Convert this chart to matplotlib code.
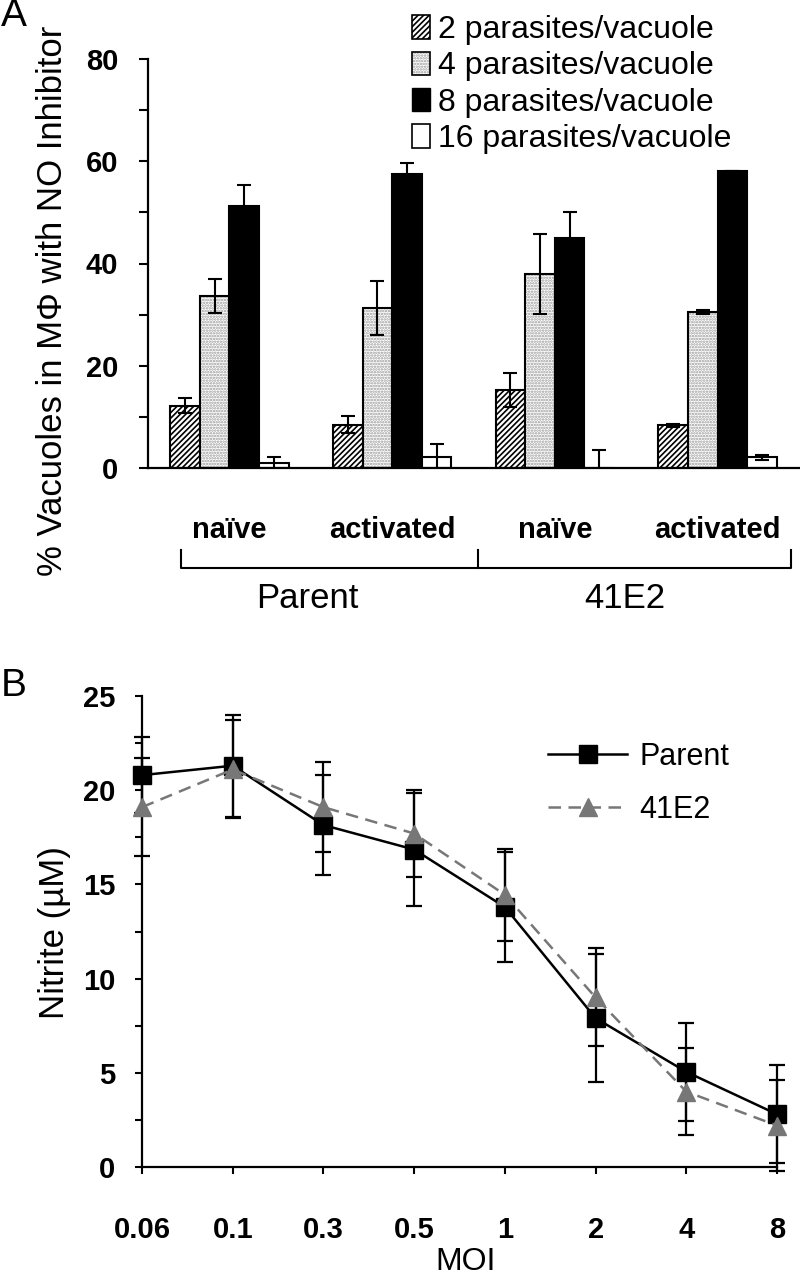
import matplotlib
matplotlib.use("Agg")
import matplotlib.pyplot as plt
import numpy as np
from matplotlib.patches import Patch
from matplotlib.lines import Line2D
from matplotlib.ticker import MultipleLocator
from matplotlib.font_manager import FontProperties

plt.rcParams['font.family'] = ['Liberation Sans', 'DejaVu Sans']
plt.rcParams['hatch.linewidth'] = 1.2

# Panel A data
groups = ['naïve', 'activated', 'naïve', 'activated']
strains = ['Parent', '41E2']
series_a = ['2 parasites/vacuole', '4 parasites/vacuole',
            '8 parasites/vacuole', '16 parasites/vacuole']
vac2 = [12.2, 8.5, 15.3, 8.4]
vac2_err = [1.5, 1.6, 3.3, 0.3]
vac4 = [33.7, 31.3, 38.0, 30.5]
vac4_err = [3.3, 5.2, 7.8, 0.4]
vac8 = [51.2, 57.6, 44.9, 58.0]
vac8_err = [4.2, 2.0, 5.2, 0.0]
vac16 = [1.0, 2.1, 0.0, 2.1]
vac16_err = [1.1, 2.6, 3.6, 0.5]

# Panel B data
moi = ['0.06', '0.1', '0.3', '0.5', '1', '2', '4', '8']
parent_no = [20.8, 21.3, 18.15, 16.85, 13.8, 7.9, 5.05, 2.8]
parent_err = [2.0, 2.7, 2.65, 3.0, 2.9, 3.4, 2.6, 2.6]
e41_no = [19.1, 21.1, 19.1, 17.7, 14.45, 9.0, 4.0, 2.2]
e41_err = [2.6, 2.6, 2.4, 2.3, 2.45, 2.6, 2.3, 2.4]

W, H = 800, 1276
fig = plt.figure(figsize=(W / 100, H / 100), dpi=100)

tick_font = dict(family=['Liberation Sans', 'DejaVu Sans'], weight='bold', size=21)

# ---------------- Panel A ----------------
axA = fig.add_axes([148 / W, (H - 468) / H, 651 / W, 409 / H])
x = np.arange(len(groups))
bw = 0.182
offs = (np.arange(4) - 1.5) * bw

axA.bar(x + offs[0], vac2, bw, facecolor='white', edgecolor='black', hatch='//////', lw=1.5, zorder=2)
axA.bar(x + offs[1], vac4, bw, facecolor='white', edgecolor='#9a9a9a', hatch='......', lw=0, zorder=2)
axA.bar(x + offs[1], vac4, bw, facecolor='none', edgecolor='black', lw=1.5, zorder=2)
axA.bar(x + offs[2], vac8, bw, facecolor='black', edgecolor='black', lw=1.5, zorder=2)
axA.bar(x + offs[3], vac16, bw, facecolor='white', edgecolor='black', lw=1.5, zorder=2)

for off, vals, errs in zip(offs, [vac2, vac4, vac8, vac16],
                           [vac2_err, vac4_err, vac8_err, vac16_err]):
    axA.errorbar(x + off, vals, yerr=errs, fmt='none', ecolor='black',
                 elinewidth=1.5, capsize=5, capthick=1.5, zorder=3)

axA.set_xlim(-0.5, 3.5)
axA.set_ylim(0, 80)
axA.yaxis.set_major_locator(MultipleLocator(20))
axA.yaxis.set_minor_locator(MultipleLocator(10))
axA.tick_params(axis='y', which='both', direction='out', length=6.5, width=1.5, pad=15)
axA.set_xticks([])
for lab in axA.get_yticklabels():
    lab.set_fontproperties(FontProperties(**tick_font))
for s in ['top', 'right']:
    axA.spines[s].set_visible(False)
for s in ['left', 'bottom']:
    axA.spines[s].set_linewidth(1.6)

axA.set_ylabel('% Vacuoles in MΦ with NO Inhibitor', fontsize=25)
axA.yaxis.set_label_coords(-0.121, 0.408)

tr = axA.get_xaxis_transform()
for xi, g in zip(x, groups):
    axA.text(xi, -0.152, g, transform=tr, ha='center', va='center', **tick_font)
axA.plot([-0.30, -0.30, 3.45, 3.45], [-0.200, -0.245, -0.245, -0.200],
         transform=tr, color='black', lw=1.5, clip_on=False)
axA.plot([1.53, 1.53], [-0.200, -0.245], transform=tr, color='black', lw=1.5, clip_on=False)
for xi, s in zip([0.48, 2.43], strains):
    axA.text(xi, -0.318, s, transform=tr, ha='center', va='center', fontsize=25)

hA = [Patch(facecolor='white', edgecolor='black', hatch='//////', lw=1.2),
      (Patch(facecolor='white', edgecolor='#9a9a9a', hatch='......', lw=0),
       Patch(facecolor='none', edgecolor='black', lw=1.2)),
      Patch(facecolor='black', edgecolor='black'),
      Patch(facecolor='white', edgecolor='black', lw=1.2)]
axA.legend(hA, series_a, loc='upper left', bbox_to_anchor=(412 / W, 1 - 15 / H),
           bbox_transform=fig.transFigure, frameon=False, fontsize=23,
           handlelength=0.55, handleheight=0.75, handletextpad=0.25,
           labelspacing=0.2, borderpad=0, borderaxespad=0)

fig.text(1 / W, 1 - 16 / H, 'A', fontsize=28, va='center', ha='left')

# ---------------- Panel B ----------------
axB = fig.add_axes([142 / W, (H - 1167) / H, 635 / W, 471 / H])
xb = np.arange(len(moi))
axB.errorbar(xb, parent_no, yerr=parent_err, color='black', lw=1.8, marker='s',
             ms=13, mfc='black', mec='black', ecolor='black', elinewidth=1.6,
             capsize=6, capthick=1.6, clip_on=False, zorder=3)
axB.errorbar(xb, e41_no, yerr=e41_err, color='#777777', lw=1.8, ls=(0, (5, 3)),
             marker='^', ms=13, mfc='#777777', mec='#777777', ecolor='black',
             elinewidth=1.6, capsize=6, capthick=1.6, clip_on=False, zorder=4)
axB.set_xlim(0, 7)
axB.set_ylim(0, 25)
axB.yaxis.set_major_locator(MultipleLocator(5))
axB.yaxis.set_minor_locator(MultipleLocator(2.5))
axB.set_xticks(xb)
axB.set_xticklabels(moi)
axB.tick_params(axis='y', which='both', direction='out', length=5, width=1.5, pad=14)
axB.tick_params(axis='x', direction='out', length=5, width=1.5, pad=30)
for lab in axB.get_yticklabels() + axB.get_xticklabels():
    lab.set_fontproperties(FontProperties(**tick_font))
for s in ['top', 'right']:
    axB.spines[s].set_visible(False)
for s in ['left', 'bottom']:
    axB.spines[s].set_linewidth(1.6)
axB.set_xlabel('MOI', fontsize=23)
axB.xaxis.set_label_coords(0.51, -0.170)
axB.set_ylabel('Nitrite (µM)', fontsize=25)
axB.yaxis.set_label_coords(-0.112, 0.497)

hB = [Line2D([], [], color='black', lw=1.8, marker='s', ms=13),
      Line2D([], [], color='#777777', lw=1.8, ls=(0, (5, 3)), marker='^', ms=13)]
axB.legend(hB, strains, loc='upper left', bbox_to_anchor=(548 / W, 1 - 742 / H),
           bbox_transform=fig.transFigure, frameon=False, fontsize=22,
           handlelength=2.6, handletextpad=0.4, labelspacing=0.75,
           borderpad=0, borderaxespad=0)

fig.text(1 / W, 1 - 686 / H, 'B', fontsize=28, va='center', ha='left')

fig.savefig('out.png', dpi=100)
